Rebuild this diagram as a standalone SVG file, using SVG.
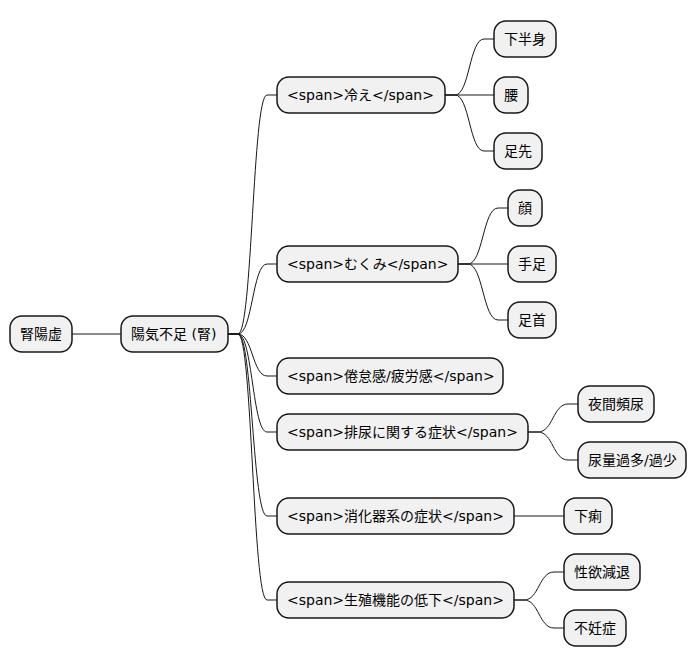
<svg xmlns="http://www.w3.org/2000/svg" width="697" height="668" viewBox="0 0 697 668">
<style>
.n rect{fill:#F1F1F1;stroke:#181818;stroke-width:1.5}
.n text{font-family:"DejaVu Sans","Noto Sans CJK JP",sans-serif;font-size:14px;fill:#000}
#edges path{fill:none;stroke:#181818;stroke-width:1}
</style>
<rect width="697" height="668" fill="#FFFFFF"/>
<g id="edges">
<path d="M72,334 L121,334"/>
<path d="M228,334 L238,334 C252.5,334 252.5,95 267,95 L277,95"/>
<path d="M228,334 L238,334 C252.5,334 252.5,264 267,264 L277,264"/>
<path d="M228,334 L238,334 C252.5,334 252.5,376 267,376 L277,376"/>
<path d="M228,334 L238,334 C252.5,334 252.5,432 267,432 L277,432"/>
<path d="M228,334 L238,334 C252.5,334 252.5,516 267,516 L277,516"/>
<path d="M228,334 L238,334 C252.5,334 252.5,600 267,600 L277,600"/>
<path d="M445,95 L455,95 C469.5,95 469.5,39 484,39 L494,39"/>
<path d="M445,95 L494,95"/>
<path d="M445,95 L455,95 C469.5,95 469.5,151 484,151 L494,151"/>
<path d="M458,264 L468,264 C483,264 483,208 498,208 L508,208"/>
<path d="M458,264 L508,264"/>
<path d="M458,264 L468,264 C483,264 483,320 498,320 L508,320"/>
<path d="M528,432 L538,432 C553,432 553,404 568,404 L578,404"/>
<path d="M528,432 L538,432 C553,432 553,460 568,460 L578,460"/>
<path d="M514,516 L564,516"/>
<path d="M514,600 L524,600 C539,600 539,572 554,572 L564,572"/>
<path d="M514,600 L524,600 C539,600 539,628 554,628 L564,628"/>
</g>
<g id="n0" class="n"><rect x="10" y="316" width="62" height="36" rx="12"/><text x="20" y="339">腎陽虚</text></g>
<g id="n1" class="n"><rect x="121" y="316" width="107" height="36" rx="12"/><text x="131" y="339">陽気不足 (腎)</text></g>
<g id="n2" class="n"><rect x="277" y="77" width="168" height="36" rx="12"/><text x="287" y="100">&lt;span&gt;冷え&lt;/span&gt;</text></g>
<g id="n3" class="n"><rect x="494" y="21" width="62" height="36" rx="12"/><text x="504" y="44">下半身</text></g>
<g id="n4" class="n"><rect x="494" y="77" width="34" height="36" rx="12"/><text x="504" y="100">腰</text></g>
<g id="n5" class="n"><rect x="494" y="133" width="48" height="36" rx="12"/><text x="504" y="156">足先</text></g>
<g id="n6" class="n"><rect x="277" y="246" width="181" height="36" rx="12"/><text x="287" y="269">&lt;span&gt;むくみ&lt;/span&gt;</text></g>
<g id="n7" class="n"><rect x="508" y="190" width="34" height="36" rx="12"/><text x="518" y="213">顔</text></g>
<g id="n8" class="n"><rect x="508" y="246" width="48" height="36" rx="12"/><text x="518" y="269">手足</text></g>
<g id="n9" class="n"><rect x="508" y="302" width="48" height="36" rx="12"/><text x="518" y="325">足首</text></g>
<g id="n10" class="n"><rect x="277" y="358" width="226" height="36" rx="12"/><text x="287" y="381">&lt;span&gt;倦怠感/疲労感&lt;/span&gt;</text></g>
<g id="n11" class="n"><rect x="277" y="414" width="251" height="36" rx="12"/><text x="287" y="437">&lt;span&gt;排尿に関する症状&lt;/span&gt;</text></g>
<g id="n12" class="n"><rect x="578" y="386" width="76" height="36" rx="12"/><text x="588" y="409">夜間頻尿</text></g>
<g id="n13" class="n"><rect x="578" y="442" width="108" height="36" rx="12"/><text x="588" y="465">尿量過多/過少</text></g>
<g id="n14" class="n"><rect x="277" y="498" width="237" height="36" rx="12"/><text x="287" y="521">&lt;span&gt;消化器系の症状&lt;/span&gt;</text></g>
<g id="n15" class="n"><rect x="564" y="498" width="48" height="36" rx="12"/><text x="574" y="521">下痢</text></g>
<g id="n16" class="n"><rect x="277" y="582" width="237" height="36" rx="12"/><text x="287" y="605">&lt;span&gt;生殖機能の低下&lt;/span&gt;</text></g>
<g id="n17" class="n"><rect x="564" y="554" width="76" height="36" rx="12"/><text x="574" y="577">性欲減退</text></g>
<g id="n18" class="n"><rect x="564" y="610" width="62" height="36" rx="12"/><text x="574" y="633">不妊症</text></g>
</svg>
